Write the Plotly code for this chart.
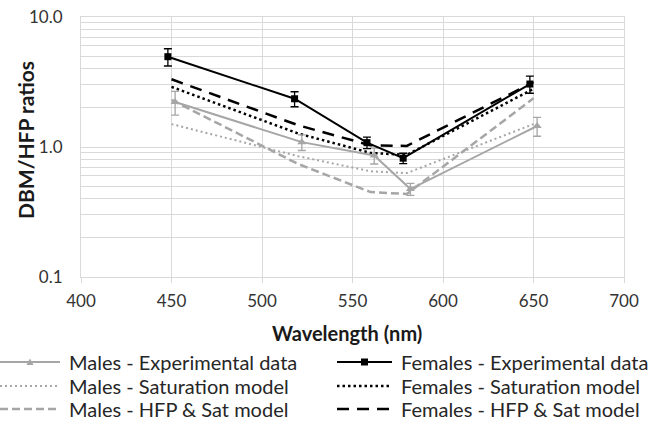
import plotly.graph_objects as go

# Wavelength positions (nm); experimental points are nudged apart so the error bars do not overlap
wl_model = [450, 520, 560, 580, 650]
wl_females = [448, 518, 558, 578, 648]
wl_males = [452, 522, 562, 582, 652]

# DBM/HFP ratios
females_exp = [4.95, 2.35, 1.08, 0.82, 3.05]
females_exp_err = [0.75, 0.31, 0.11, 0.075, 0.46]
males_exp = [2.22, 1.09, 0.86, 0.475, 1.45]
males_exp_err = [0.46, 0.15, 0.12, 0.05, 0.24]

males_sat = [1.50, 0.85, 0.65, 0.63, 1.50]
females_sat = [2.90, 1.27, 0.90, 0.87, 2.80]
males_hfp_sat = [2.30, 0.74, 0.45, 0.435, 2.37]
females_hfp_sat = [3.32, 1.47, 1.03, 1.02, 3.15]

y_ticks = [0.1, 1, 10]
y_tick_text = ["0.1", "1.0", "10.0"]
x_ticks = [400, 450, 500, 550, 600, 650, 700]

GRAY = "#a6a6a6"
BLACK = "#000000"
GRID = "#d9d9d9"
FONT = "Lato"

# page geometry of the plotting area (pixels)
W, H = 649, 423
L, R, T, B = 81, 25, 17, 146
PW, PH = W - L - R, H - T - B


def px_x(px):
    """page pixel column -> paper x"""
    return (px - L) / PW


def px_y(py):
    """page pixel row -> paper y"""
    return (H - B - py) / PH


styles = {
    "Males - Experimental data": dict(color=GRAY, width=2, dash="solid", marker="triangle"),
    "Males - Saturation model": dict(color=GRAY, width=2, dash="2px,3px", marker=None),
    "Males - HFP & Sat model": dict(color=GRAY, width=2.5, dash="8px,4px", marker=None),
    "Females - Experimental data": dict(color=BLACK, width=2, dash="solid", marker="square"),
    "Females - Saturation model": dict(color=BLACK, width=2.5, dash="2.5px,3px", marker=None),
    "Females - HFP & Sat model": dict(color=BLACK, width=2.5, dash="12px,8px", marker=None),
}

fig = go.Figure()


def add_series(name, x, y, err=None):
    st = styles[name]
    kw = dict(x=x, y=y, name=name, line=dict(color=st["color"], width=st["width"], dash=st["dash"]))
    if st["marker"]:
        kw["mode"] = "lines+markers"
        kw["marker"] = dict(symbol="triangle-up" if st["marker"] == "triangle" else "square",
                            size=8 if st["marker"] == "triangle" else 7, color=st["color"])
    else:
        kw["mode"] = "lines"
    if err is not None:
        kw["error_y"] = dict(type="data", array=err, color=st["color"], thickness=1.3, width=4)
    fig.add_trace(go.Scatter(**kw))


add_series("Males - Saturation model", wl_model, males_sat)
add_series("Males - HFP & Sat model", wl_model, males_hfp_sat)
add_series("Females - Saturation model", wl_model, females_sat)
add_series("Females - HFP & Sat model", wl_model, females_hfp_sat)
add_series("Males - Experimental data", wl_males, males_exp, males_exp_err)
add_series("Females - Experimental data", wl_females, females_exp, females_exp_err)

# two-column key below the axis title
legend_columns = [
    (0, 60, 67, ["Males - Experimental data", "Males - Saturation model", "Males - HFP & Sat model"]),
    (337, 392, 399, ["Females - Experimental data", "Females - Saturation model", "Females - HFP & Sat model"]),
]
legend_rows = [362, 386, 409]

shapes = []
annotations = []
for x0, x1, xt, names in legend_columns:
    for name, ry in zip(names, legend_rows):
        st = styles[name]
        shapes.append(dict(type="line", xref="paper", yref="paper",
                           x0=px_x(x0), x1=px_x(x1), y0=px_y(ry), y1=px_y(ry),
                           line=dict(color=st["color"], width=st["width"], dash=st["dash"])))
        xm = (x0 + x1) / 2
        if st["marker"] == "triangle":
            path = "M {:.5f},{:.5f} L {:.5f},{:.5f} L {:.5f},{:.5f} Z".format(
                px_x(xm - 3.5), px_y(ry + 3), px_x(xm + 3.5), px_y(ry + 3), px_x(xm), px_y(ry - 3.5))
            shapes.append(dict(type="path", xref="paper", yref="paper", path=path,
                               fillcolor=st["color"], line=dict(width=0)))
        elif st["marker"] == "square":
            shapes.append(dict(type="rect", xref="paper", yref="paper",
                               x0=px_x(xm - 3.5), x1=px_x(xm + 3.5), y0=px_y(ry + 3.5), y1=px_y(ry - 3.5),
                               fillcolor=st["color"], line=dict(width=0)))
        annotations.append(dict(text=name, xref="paper", yref="paper", x=px_x(xt), y=px_y(ry),
                                xanchor="left", yanchor="middle", showarrow=False,
                                font=dict(family=FONT, size=20, color="#262626")))

# axis titles
annotations.append(dict(text="<b>Wavelength (nm)</b>", xref="paper", yref="paper",
                        x=px_x(347), y=px_y(333), xanchor="center", yanchor="middle", showarrow=False,
                        font=dict(family=FONT, size=20, color="#1a1a1a")))
annotations.append(dict(text="<b>DBM/HFP ratios</b>", xref="paper", yref="paper", textangle=-90,
                        x=px_x(25), y=px_y(140), xanchor="center", yanchor="middle", showarrow=False,
                        font=dict(family=FONT, size=21, color="#1a1a1a")))

fig.update_layout(
    width=W, height=H,
    margin=dict(l=L, r=R, t=T, b=B, autoexpand=False),
    paper_bgcolor="white", plot_bgcolor="white",
    font=dict(family=FONT, color="#262626", size=17),
    showlegend=False,
    shapes=shapes, annotations=annotations,
    xaxis=dict(
        range=[400, 700], tickvals=x_ticks, showgrid=True, gridcolor=GRID, gridwidth=1,
        showline=True, linecolor=GRID, linewidth=1, mirror=True,
        ticks="outside", ticklen=5, tickcolor=GRID, zeroline=False, ticklabelstandoff=4,
        tickfont=dict(family=FONT, size=17, color="#333333"),
    ),
    yaxis=dict(
        type="log", range=[-1, 1], tickvals=y_ticks, ticktext=y_tick_text,
        showgrid=True, gridcolor=GRID, gridwidth=1,
        minor=dict(showgrid=True, gridcolor=GRID, gridwidth=1, dtick="D1"),
        showline=True, linecolor=GRID, linewidth=1, mirror=True,
        ticks="", zeroline=False, ticklabelstandoff=14,
        tickfont=dict(family=FONT, size=17, color="#333333"),
    ),
)

fig.write_html("out.html")
